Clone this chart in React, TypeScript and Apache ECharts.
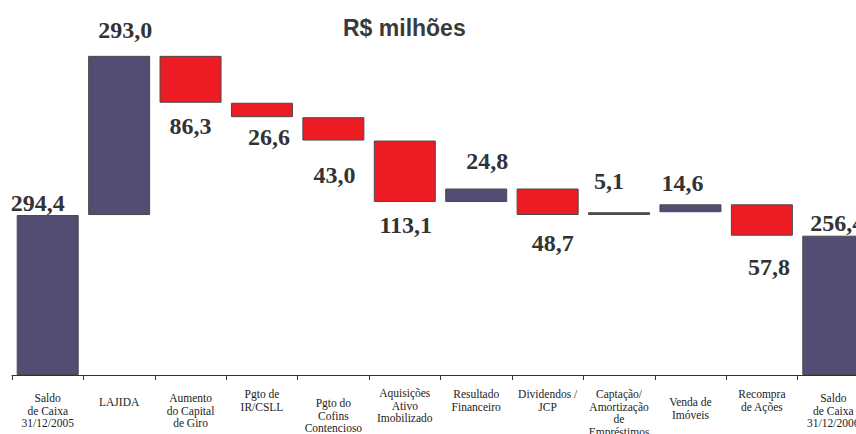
import React, { useEffect, useRef } from "react";
import * as echarts from "echarts";

const categories: string[] = [
  "Saldo\nde Caixa\n31/12/2005",
  "LAJIDA",
  "Aumento\ndo Capital\nde Giro",
  "Pgto de\nIR/CSLL",
  "Pgto do\nCofins\nContencioso",
  "Aquisições\nAtivo\nImobilizado",
  "Resultado\nFinanceiro",
  "Dividendos /\nJCP",
  "Captação/\nAmortização\nde\nEmpréstimos",
  "Venda de\nImóveis",
  "Recompra\nde Ações",
  "Saldo\nde Caixa\n31/12/2006",
];

const changes: number[] = [294.4, 293.0, -86.3, -26.6, -43.0, -113.1, 24.8, -48.7, 5.1, 14.6, -57.8, 256.4];
const isTotal: boolean[] = [true, false, false, false, false, false, false, false, false, false, false, true];

// label styling (position tweaks), kept separate from the data
const axisLabelTopPad: number[] = [5, 9, 5, 1, 10, 0, 1, 1, 1, 9, 1, 5];
const valueLabelGap: number[] = [0, 14, 11, 8, 22, 11, 16, 16, 19, 9, 19, 1];
const valueLabelDx: number[] = [-10, 6, 0, 7, 1, 1, 11, 5, -10, -8, 7, 4];

const PURPLE = "#534d74";
const RED = "#ed1c24";
const SERIF = "Liberation Serif";

export default function App() {
  const ref = useRef<HTMLDivElement>(null);
  useEffect(() => {
    document.body.style.margin = "0";
    if (!ref.current) return;
    const chart = echarts.init(ref.current, undefined, { renderer: "svg" });

    const base: number[] = [];
    const height: any[] = [];
    let running = 0;
    changes.forEach((d, i) => {
      if (isTotal[i]) {
        base.push(0);
        running = d;
      } else {
        const next = running + d;
        base.push(Math.min(running, next));
        running = next;
      }
      const neg = d < 0;
      height.push({
        value: Math.abs(d),
        itemStyle: { color: neg ? RED : PURPLE },
        label: {
          position: neg ? "bottom" : "top",
          distance: valueLabelGap[i],
          offset: [valueLabelDx[i], 0],
        },
      });
    });

    const axisText = {
      fontFamily: SERIF,
      fontSize: 11.5,
      lineHeight: 12.5,
      color: "#222",
    };

    chart.setOption({
      animation: false,
      textStyle: { fontFamily: SERIF },
      title: {
        text: "R$ milhões",
        left: 338,
        top: 11,
        textStyle: { fontFamily: "Liberation Sans", fontSize: 23, fontWeight: "bold", color: "#3a3a3a" },
      },
      grid: { left: 12, top: 49, width: 857, height: 326, outerBoundsMode: "none", containLabel: false },
      xAxis: {
        type: "category",
        data: categories.map((c, i) => ({
          value: c,
          textStyle: { ...axisText, padding: [axisLabelTopPad[i], 0, 0, 0] },
        })),
        axisLine: { lineStyle: { color: "#333", width: 1 } },
        axisTick: { show: true, length: 5, lineStyle: { color: "#333" } },
        axisLabel: {
          interval: 0,
          margin: 12,
          hideOverlap: false,
          verticalAlign: "top",
          ...axisText,
        },
      },
      yAxis: { type: "value", min: 0, max: 600, show: false, splitLine: { show: false } },
      series: [
        {
          type: "bar",
          stack: "w",
          data: base,
          itemStyle: { color: "transparent" },
          barWidth: 62,
          silent: true,
        },
        {
          type: "bar",
          stack: "w",
          data: height,
          barWidth: 62,
          itemStyle: { borderColor: "#4a4a4a", borderWidth: 1 },
          label: {
            show: true,
            fontFamily: SERIF,
            fontWeight: "bold",
            fontSize: 24,
            color: "#333",
            formatter: (p: any) => Math.abs(changes[p.dataIndex]).toFixed(1).replace(".", ","),
          },
        },
      ],
    });
    return () => chart.dispose();
  }, []);
  return <div ref={ref} style={{ width: 856, height: 434 }} />;
}
